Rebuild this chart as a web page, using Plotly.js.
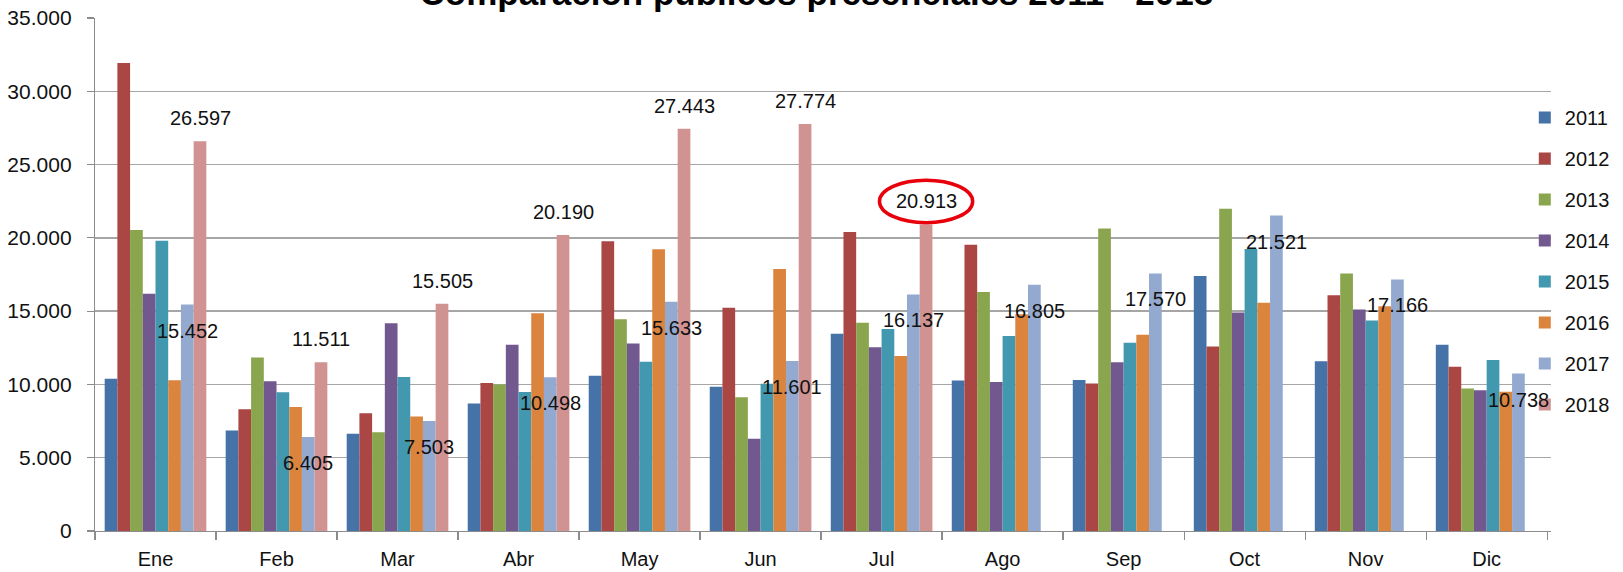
<!DOCTYPE html>
<html>
<head>
<meta charset="utf-8">
<script src="https://cdn.plot.ly/plotly-3.0.1.min.js"></script>
<style>html,body{margin:0;padding:0;background:#fff;}#chart{width:1623px;height:572px;}</style>
</head>
<body>
<div id="chart"></div>
<script>
const months = ['Ene','Feb','Mar','Abr','May','Jun','Jul','Ago','Sep','Oct','Nov','Dic'];
const years = ['2011','2012','2013','2014','2015','2016','2017','2018'];
const y2011 = [10390, 6850, 6640, 8700, 10600, 9850, 13460, 10260, 10300, 17400, 11580, 12710];
const y2012 = [31930, 8300, 8030, 10100, 19760, 15230, 20400, 19530, 10070, 12580, 16080, 11210];
const y2013 = [20530, 11830, 6730, 10000, 14450, 9130, 14210, 16300, 20630, 21990, 17560, 9730];
const y2014 = [16190, 10210, 14170, 12700, 12800, 6290, 12530, 10170, 11510, 14900, 15120, 9600];
const y2015 = [19810, 9460, 10510, 9480, 11550, 10050, 13780, 13300, 12850, 19240, 14370, 11670];
const y2016 = [10280, 8460, 7820, 14860, 19220, 17870, 11940, 14780, 13390, 15580, 15330, 9500];
const y2017 = [15452, 6405, 7503, 10498, 15633, 11601, 16137, 16805, 17570, 21521, 17166, 10738];
const y2018 = [26597, 11511, 15505, 20190, 27443, 27774, 20913, null, null, null, null, null];
const colors = ['#4572A7','#AA4643','#89A54E','#71588F','#4198AF','#DB843D','#93A9CF','#D19392'];
const highlightMonth = 'Jul';

const series = [y2011, y2012, y2013, y2014, y2015, y2016, y2017, y2018];
const FONT = '"Liberation Sans", Arial, sans-serif';
const W = 1623, H = 572;
const margin = {l: 95, r: 72, t: 18, b: 41, pad: 0, autoexpand: false};
const bargap = 0.16;

const traces = series.map((vals, i) => ({
  type: 'bar', name: years[i], x: months, y: vals,
  marker: {color: colors[i], line: {width: 0}},
  legendgroup: years[i], hoverinfo: 'x+y+name'
}));

const fmt = v => String(v).replace(/\B(?=(\d{3})+(?!\d))/g, '.');
const catW = (W - margin.l - margin.r) / months.length;
const bw = catW * (1 - bargap) / years.length;
const offPx = i => (i - (years.length - 1) / 2) * bw;

const annotations = [];
y2017.forEach((v, k) => {
  if (v != null) annotations.push({x: months[k], y: v, xref: 'x', yref: 'y', text: fmt(v), showarrow: false,
    xshift: offPx(6), yshift: -26, yanchor: 'middle', xanchor: 'center', font: {family: FONT, size: 20, color: '#111'}});
});
y2018.forEach((v, k) => {
  if (v != null) annotations.push({x: months[k], y: v, xref: 'x', yref: 'y', text: fmt(v), showarrow: false,
    xshift: offPx(7), yshift: 23, yanchor: 'middle', xanchor: 'center', font: {family: FONT, size: 20, color: '#111'}});
});

const hk = months.indexOf(highlightMonth);
const hv = y2018[hk];
const hx = hk + offPx(7) / catW;
const shapes = [{type: 'circle', xref: 'x', yref: 'y', x0: hx - 0.385, x1: hx + 0.385,
  y0: hv + 1574 - 1450, y1: hv + 1574 + 1450, line: {color: '#E8000B', width: 3.5}, fillcolor: 'rgba(0,0,0,0)'}];

const layout = {
  width: W, height: H, margin: margin,
  paper_bgcolor: '#fff', plot_bgcolor: '#fff',
  font: {family: FONT, size: 20, color: '#111'},
  separators: ',.',
  barmode: 'group', bargap: bargap, bargroupgap: 0,
  title: {text: 'Comparación públicos presenciales 2011 - 2018', font: {family: FONT, size: 35, color: '#000', weight: 'bold'},
    xref: 'container', x: 0.503, xanchor: 'center', yref: 'paper', y: 1, yanchor: 'bottom', pad: {b: 13}},
  xaxis: {type: 'category', showgrid: false, showline: true, linecolor: '#8c8c8c', linewidth: 1.2,
    ticks: 'outside', tickson: 'boundaries', ticklen: 8, tickcolor: '#8c8c8c', tickwidth: 1.2,
    tickfont: {family: FONT, size: 20, color: '#111'}, ticklabelstandoff: 10, zeroline: false},
  yaxis: {range: [0, 35000], dtick: 5000, tick0: 0, tickformat: ',d', showgrid: true, gridcolor: '#A6A6A6', gridwidth: 1.3,
    showline: true, linecolor: '#8c8c8c', linewidth: 1.2, ticks: 'outside', ticklen: 7, tickcolor: '#8c8c8c', tickwidth: 1.2,
    tickfont: {family: FONT, size: 21, color: '#111'}, ticklabelstandoff: 11, zeroline: false, fixedrange: true},
  showlegend: true,
  legend: {x: 0.982, xanchor: 'left', y: 0.844, yanchor: 'top', bgcolor: 'rgba(0,0,0,0)', borderwidth: 0,
    font: {family: FONT, size: 20, color: '#111'}, tracegroupgap: 12, itemwidth: 30, traceorder: 'grouped'},
  annotations: annotations,
  shapes: shapes
};

Plotly.newPlot('chart', traces, layout, {displayModeBar: false, staticPlot: true});
</script>
</body>
</html>
